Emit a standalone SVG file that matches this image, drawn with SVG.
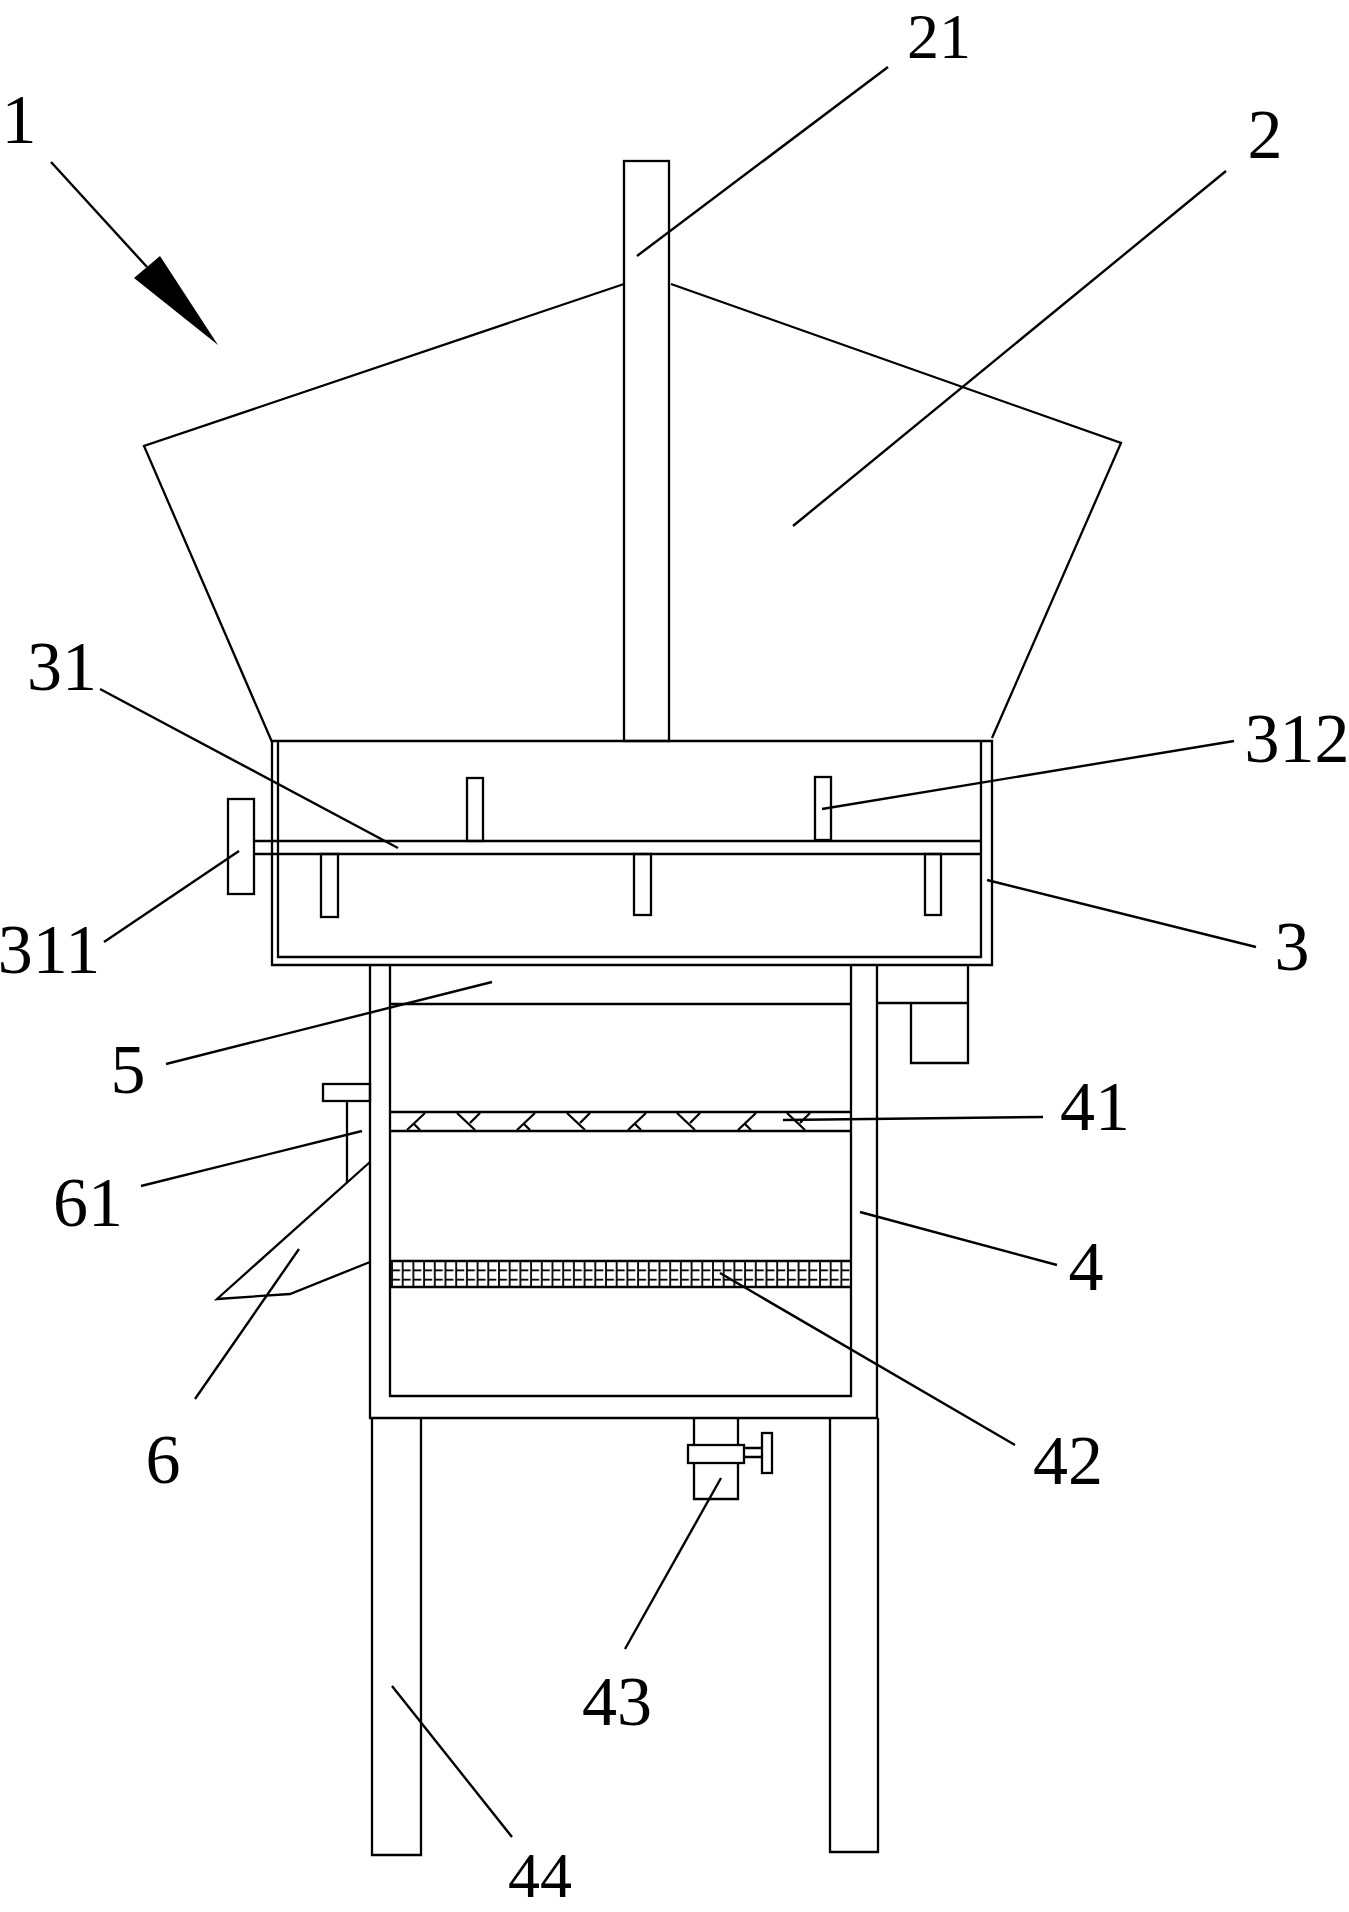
<svg xmlns="http://www.w3.org/2000/svg" width="1349" height="1912" viewBox="0 0 1349 1912">
<style>
.s{fill:none;stroke:#000;stroke-width:2.3;stroke-linejoin:miter}
.l{fill:none;stroke:#000;stroke-width:2.4}
.t{font-family:"Liberation Serif","Times New Roman",serif;font-size:70px;fill:#000;text-anchor:middle}
.e{font-size:64px}
</style>
<defs>
<path id="hA" class="s" d="M0 18L18 1M6 11L13 18"/>
<path id="hB" class="s" d="M0 1L18 18M13 11L23 1"/>
<pattern id="mesh" patternUnits="userSpaceOnUse" x="391" y="1262" width="10.7" height="9.3">
<path d="M1 0V8.4H9" fill="none" stroke="#000" stroke-width="1.8"/>
</pattern>
</defs>
<rect width="1349" height="1912" fill="#fff"/>
<g id="hopper-2">
<path class="s" d="M624 284L144 446L272 742M671 284L1121 443L992 738"/>
</g>
<g id="pole-21">
<rect class="s" x="624" y="161" width="45" height="580"/>
</g>
<g id="box-3">
<path class="s" d="M272 741H992V965H272Z"/>
<path class="s" d="M278 741V957H981V741"/>
</g>
<g id="shaft-31">
<path class="s" d="M254 841H981M254 854H981"/>
</g>
<g id="handle-311">
<rect class="s" x="228" y="799" width="26" height="95"/>
</g>
<g id="pins-312">
<rect class="s" x="467" y="778" width="16" height="63"/>
<rect class="s" x="815" y="777" width="16" height="63"/>
<rect class="s" x="321" y="854" width="17" height="63"/>
<rect class="s" x="634" y="854" width="17" height="61"/>
<rect class="s" x="925" y="854" width="16" height="61"/>
</g>
<g id="tank-4">
<path class="s" d="M370 966V1418H877V966"/>
<path class="s" d="M390 966V1396H851V966"/>
</g>
<g id="plate-5">
<path class="s" d="M390 1004H851"/>
</g>
<g id="motor">
<path class="s" d="M877 1003H968V966M911 1003V1063H968V1003"/>
</g>
<g id="filter-41">
<path class="s" d="M390 1112H851M390 1131H851"/>
<use href="#hA" x="407" y="1112"/>
<use href="#hB" x="457" y="1112"/>
<use href="#hA" x="517" y="1112"/>
<use href="#hB" x="567" y="1112"/>
<use href="#hA" x="628" y="1112"/>
<use href="#hB" x="677" y="1112"/>
<use href="#hA" x="738" y="1112"/>
<use href="#hB" x="787" y="1112"/>
</g>
<g id="filter-42">
<rect x="391" y="1262" width="460" height="25" fill="url(#mesh)"/>
<path class="s" d="M390 1261H851M390 1287H851" style="stroke-width:2.6"/>
</g>
<g id="valve-43">
<path class="s" d="M694 1418V1445M738 1418V1445M694 1463V1499H738V1463"/>
<rect class="s" x="688" y="1445" width="56" height="18"/>
<path class="s" d="M744 1448H762M744 1457H762"/>
<rect class="s" x="762" y="1433" width="10" height="40"/>
</g>
<g id="leg-left-44">
<path class="s" d="M372 1418V1855H421V1418"/>
</g>
<g id="leg-right">
<path class="s" d="M830 1418V1852H878V1418"/>
</g>
<g id="inlet-61">
<rect class="s" x="323" y="1084" width="47" height="17"/>
<path class="s" d="M347 1101V1182"/>
</g>
<g id="outlet-6">
<path class="s" d="M370 1162L217 1299L290 1294L370 1262"/>
</g>
<g id="connectors">
<path class="l" d="M51 162L147 267"/>
<path d="M134 278L160 256L218 345Z" fill="#000"/>
<path class="l" d="M637 256L888 67"/>
<path class="l" d="M793 526L1226 171"/>
<path class="l" d="M100 689L398 848"/>
<path class="l" d="M822 809L1234 741"/>
<path class="l" d="M104 942L239 851"/>
<path class="l" d="M987 880L1256 947"/>
<path class="l" d="M166 1064L492 982"/>
<path class="l" d="M783 1120L1043 1117"/>
<path class="l" d="M141 1186L362 1131"/>
<path class="l" d="M195 1399L299 1249"/>
<path class="l" d="M860 1212L1057 1265"/>
<path class="l" d="M720 1273L1015 1445"/>
<path class="l" d="M721 1478L625 1649"/>
<path class="l" d="M392 1686L512 1837"/>
</g>
<g id="labels">
<text class="t" x="19" y="143">1</text>
<text class="t e" x="939" y="58">21</text>
<text class="t" x="1265" y="158">2</text>
<text class="t" x="62" y="690">31</text>
<text class="t" x="1297" y="762">312</text>
<text class="t" x="49" y="973">311</text>
<text class="t" x="1292" y="970">3</text>
<text class="t" x="128" y="1093">5</text>
<text class="t" x="1095" y="1130">41</text>
<text class="t" x="88" y="1226">61</text>
<text class="t" x="1086" y="1290">4</text>
<text class="t" x="163" y="1483">6</text>
<text class="t" x="1068" y="1484">42</text>
<text class="t" x="617" y="1725">43</text>
<text class="t e" x="540" y="1897">44</text>
</g>
</svg>
